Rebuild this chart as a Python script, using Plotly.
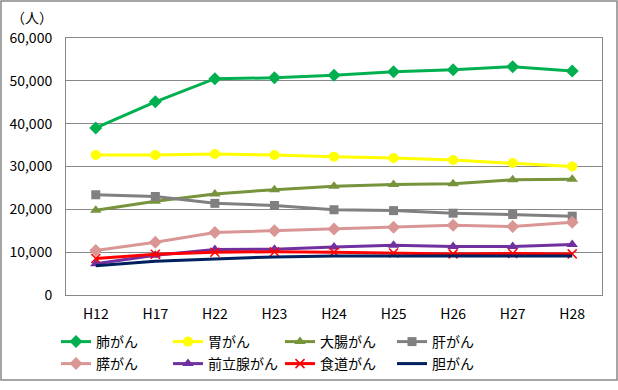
import plotly.graph_objects as go

categories = ["H12", "H17", "H22", "H23", "H24", "H25", "H26", "H27", "H28"]

lung = [39000, 45100, 50500, 50700, 51300, 52100, 52600, 53300, 52300]
stomach = [32700, 32700, 32900, 32700, 32300, 32000, 31500, 30800, 30000]
colon = [19800, 21900, 23600, 24600, 25400, 25800, 26000, 26900, 27000]
liver = [23400, 23000, 21400, 20900, 19900, 19700, 19100, 18800, 18400]
pancreas = [10400, 12300, 14600, 15000, 15400, 15800, 16300, 16000, 17000]
prostate = [7300, 9300, 10600, 10700, 11200, 11600, 11300, 11300, 11800]
esophagus = [8500, 9500, 10000, 10100, 10000, 9800, 9600, 9700, 9600]
gallbladder = [6800, 7900, 8400, 8900, 9100, 9100, 9100, 9100, 9100]

series = [
    ("肺がん", lung, "#00b050", "diamond", 10),
    ("胃がん", stomach, "#ffff00", "circle", 10),
    ("大腸がん", colon, "#77933c", "triangle-up", 10),
    ("肝がん", liver, "#808080", "square", 9),
    ("膵がん", pancreas, "#d99694", "diamond", 10),
    ("前立腺がん", prostate, "#7030a0", "triangle-up", 10),
    ("食道がん", esophagus, "#ff0000", "x-thin-open", 9),
    ("胆がん", gallbladder, "#002060", None, 0),
]

font_family = "Noto Sans CJK JP"
fig = go.Figure()
for i, (name, vals, color, sym, size) in enumerate(series):
    if sym:
        marker = dict(symbol=sym, size=size, color=color,
                      line=dict(color=color, width=1.5 if sym.startswith("x") else 0))
        mode = "lines+markers"
    else:
        marker = None
        mode = "lines"
    fig.add_trace(go.Scatter(
        x=categories, y=vals, name=name, mode=mode,
        line=dict(color=color, width=3),
        marker=marker,
        legend="legend" if i < 4 else "legend2",
    ))

W, H = 618, 390
L, R, T, B = 66, 16, 38, 95
pw, ph = W - L - R, H - T - B

def px_x(p):
    return (p - L) / pw

def px_y(p):
    return (H - B - p) / ph

legend_common = dict(
    orientation="h", xanchor="left", yanchor="top",
    entrywidth=67, entrywidthmode="pixels",
    font=dict(size=14), traceorder="normal",
    itemwidth=30, bgcolor="rgba(0,0,0,0)",
)

fig.update_layout(
    width=W, height=H,
    margin=dict(l=L, r=R, t=T, b=B, autoexpand=False),
    paper_bgcolor="white", plot_bgcolor="white",
    font=dict(family=font_family, size=13, color="#000000"),
    xaxis=dict(
        type="category", range=[-0.5, 8.5], automargin=False,
        showline=True, linecolor="#888888", linewidth=1, mirror=True,
        showgrid=False, ticks="outside", ticklen=6, tickcolor="rgba(0,0,0,0)",
        tickfont=dict(size=14),
    ),
    yaxis=dict(
        range=[0, 60000], dtick=10000, tickformat=",d", automargin=False,
        showline=True, linecolor="#888888", linewidth=1, mirror=True,
        showgrid=True, gridcolor="#888888", gridwidth=1,
        ticks="outside", ticklen=10, tickcolor="rgba(0,0,0,0)",
        tickfont=dict(size=14), zeroline=False,
    ),
    legend=dict(x=px_x(56), y=px_y(326), **legend_common),
    legend2=dict(x=px_x(56), y=px_y(348), **legend_common),
    annotations=[dict(
        text="（人）", xref="paper", yref="paper", x=px_x(32), y=px_y(17),
        xanchor="center", yanchor="middle", showarrow=False,
        font=dict(size=14),
    )],
    shapes=[dict(
        type="rect", xref="paper", yref="paper",
        x0=px_x(1), x1=px_x(617), y0=px_y(380), y1=px_y(1),
        line=dict(color="#888888", width=1.5),
    )],
)

fig.write_html("out.html", config={"displayModeBar": False},
               post_script="document.body.style.margin='0';")
